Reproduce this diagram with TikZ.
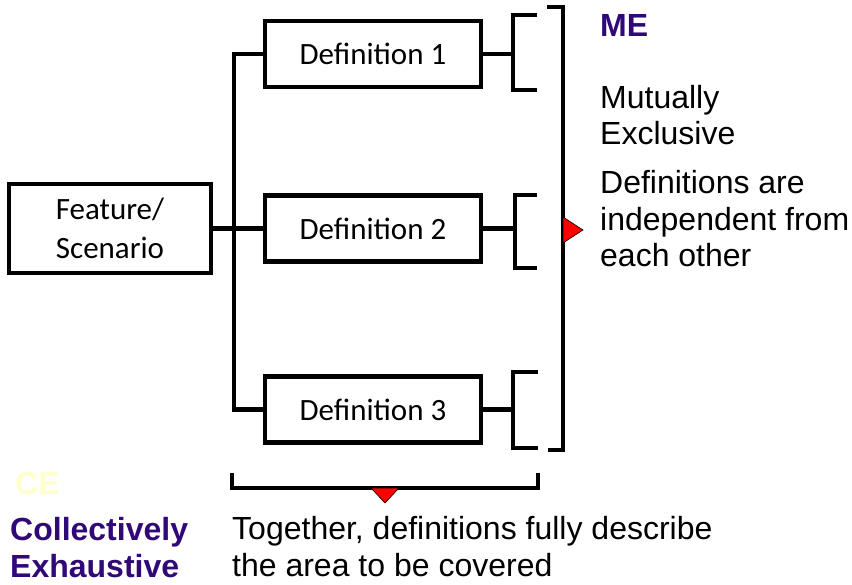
\documentclass[tikz,border=0pt]{standalone}
\usepackage{fontspec}
\setmainfont{Liberation Sans}
\newfontfamily\boxfont{Carlito}
\definecolor{mepurple}{RGB}{48,8,120}
\definecolor{cepale}{RGB}{255,255,204}

\begin{document}
\begin{tikzpicture}[x=1pt,y=-1pt,
  box/.style={draw, line width=4.5pt, rectangle, align=center, inner sep=0pt,
    font=\boxfont\fontsize{31}{39}\selectfont},
  defbox/.style={box, minimum width=216pt, minimum height=66pt},
  wire/.style={line width=4.5pt},
  brk/.style={line width=4.5pt},
  redtri/.style={fill=red, draw=black, line width=0.6pt, line join=miter},
  body/.style={anchor=base west, align=left, inner sep=0pt,
    font=\fontsize{32}{36.5}\selectfont},
  head/.style={body, font=\bfseries\fontsize{32}{36.5}\selectfont}
]
\useasboundingbox (0,0) rectangle (852,585);

% tree of boxes
\node[box, minimum width=202pt, minimum height=89pt] (feat) at (110,228.5) {Feature/\\Scenario};
\node[defbox] (d1) at (373,54) {Definition 1};
\node[defbox] (d2) at (373,228.5) {Definition 2};
\node[defbox] (d3) at (373,409.5) {Definition 3};

\coordinate (trunk1) at (234,54);
\coordinate (trunk3) at (234,409.5);
\draw[wire] (d1.west) -- (trunk1) -- (trunk3) -- (d3.west);
\draw[wire] (feat.east) -- (d2.west);

% small brackets beside each definition
\coordinate (b1) at (513,54);
\coordinate (b2) at (515,228.5);
\coordinate (b3) at (513,409.5);
\draw[wire] (d1.east) -- (b1);
\draw[wire] (d2.east) -- (b2);
\draw[wire] (d3.east) -- (b3);
\draw[brk] (537,15) -- (513,15) -- (513,90) -- (537,90);
\draw[brk] (537,195) -- (515,195) -- (515,268) -- (537,268);
\draw[brk] (538,372) -- (513,372) -- (513,448) -- (538,448);

% large right bracket with pointer
\draw[brk] (547,7) -- (563,7) -- (563,450) -- (548,450);
\draw[redtri] (563,217) -- (583,230) -- (563,243) -- cycle;

% bottom bracket with pointer
\draw[brk] (232,473) -- (232,488) -- (538,488) -- (538,473);
\draw[redtri] (371,488) -- (385,503) -- (399,488) -- cycle;

% labels (multi-line nodes are placed by the baseline of their last line)
\node[head, text=mepurple] (me) at (600,37) {ME};
\node[body] (mutex) at (600,145) {Mutually\\Exclusive};
\node[body] (medesc) at (600,267) {Definitions are\\independent from\\each other};
\node[head, text=cepale] (ce) at (15,494) {CE};
\node[head, text=mepurple] (coex) at (10,577) {Collectively\\Exhaustive};
\node[body] (cedesc) at (232,576) {Together, definitions fully describe\\the area to be covered};
\end{tikzpicture}
\end{document}
